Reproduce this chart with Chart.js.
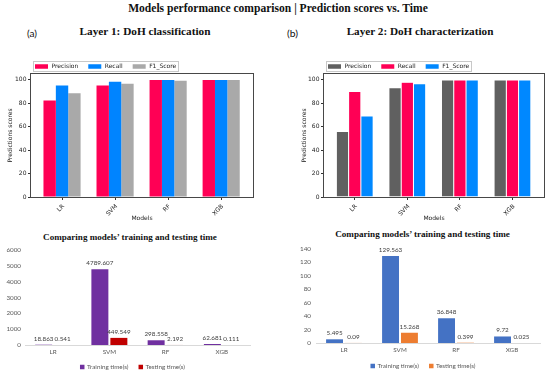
<!DOCTYPE html>
<html><head><meta charset="utf-8">
<script src="https://cdn.jsdelivr.net/npm/chart.js@4.4.0/dist/chart.umd.min.js"></script>
<style>
html,body{margin:0;padding:0;background:#fff;}
body{width:550px;height:376px;position:relative;overflow:hidden;}
canvas{position:absolute;}
.fit{position:absolute;white-space:nowrap;line-height:1;transform:translateY(-50%);color:#111;}
.serif{font-family:"Liberation Serif",serif;font-weight:bold;}
.sans{font-family:Lato,"Liberation Sans",sans-serif;}
</style></head><body>
<div class="fit serif" data-w="300" data-cx="278" data-cy="9">Models performance comparison | Prediction scores vs. Time</div>
<div class="fit sans" data-w="10" data-cx="32" data-cy="33">(a)</div>
<div class="fit serif" data-w="131" data-cx="145" data-cy="32">Layer 1: DoH classification</div>
<div class="fit sans" data-w="11" data-cx="292.5" data-cy="33">(b)</div>
<div class="fit serif" data-w="147" data-cx="420" data-cy="32">Layer 2: DoH characterization</div>
<div class="fit serif" data-w="174" data-cx="130" data-cy="238">Comparing models’ training and testing time</div>
<div class="fit serif" data-w="175" data-cx="422.5" data-cy="235">Comparing models’ training and testing time</div>

<canvas id="c1" width="275" height="185" style="left:0;top:42px"></canvas>
<canvas id="c2" width="275" height="185" style="left:275px;top:42px"></canvas>
<canvas id="c3" width="275" height="148" style="left:0;top:228px"></canvas>
<canvas id="c4" width="275" height="148" style="left:275px;top:228px"></canvas>
<script>
// ---------- data ----------
const models = ['LR', 'SVM', 'RF', 'XGB'];
const scoreTicks = [0, 20, 40, 60, 80, 100];
const layer1Precision = [82.3, 95.1, 99.9, 99.9];
const layer1Recall    = [95.1, 98.3, 99.9, 99.9];
const layer1F1        = [88.6, 96.6, 99.2, 99.8];
const layer2Precision = [56.0, 93.2, 99.8, 99.9];
const layer2Recall    = [90.1, 98.0, 99.8, 99.9];
const layer2F1        = [69.2, 96.6, 99.8, 99.8];
const layer1TrainTime = [18.863, 4789.607, 298.558, 62.681];
const layer1TestTime  = [0.541, 449.549, 2.192, 0.111];
const layer2TrainTime = [5.495, 129.563, 36.848, 9.72];
const layer2TestTime  = [0.09, 15.268, 0.399, 0.025];

// ---------- headings fit ----------
document.querySelectorAll('.fit').forEach(el => {
  const base = 20;
  el.style.fontSize = base + 'px';
  const m = el.getBoundingClientRect().width;
  el.style.fontSize = (base * (+el.dataset.w) / m) + 'px';
  el.style.left = (+el.dataset.cx - el.getBoundingClientRect().width / 2) + 'px';
  el.style.top = el.dataset.cy + 'px';
});

// ---------- plugins ----------
const framePlugin = {
  id: 'frame',
  afterDatasetsDraw(chart, args, o) {
    const {left, top, right, bottom} = chart.chartArea;
    const c = chart.ctx;
    c.save();
    c.strokeStyle = o.color || '#444';
    c.lineWidth = 1;
    c.strokeRect(Math.round(left) - 0.5, Math.round(top) - 0.5, Math.round(right - left) + 1, Math.round(bottom - top) + 1);
    c.restore();
  }
};
const mplLegend = {
  id: 'mplLegend',
  afterDraw(chart, args, o) {
    const c = chart.ctx, ca = chart.chartArea, ds = chart.data.datasets;
    c.save();
    c.font = o.size + 'px "DejaVu Sans"';
    const ws = ds.map(d => c.measureText(d.label).width);
    const total = o.pad * 2 + ds.reduce((s, d, i) => s + o.sw + o.tg + ws[i], 0) + o.gap * (ds.length - 1);
    const x0 = Math.round(ca.left + o.dx), top = Math.round(ca.top - o.dy - o.h);
    c.fillStyle = '#fff';
    c.fillRect(x0, top, total, o.h);
    c.strokeStyle = '#c8c8c8';
    c.lineWidth = 1;
    c.strokeRect(x0 + 0.5, top + 0.5, Math.round(total), o.h);
    let x = x0 + o.pad;
    const cy = top + o.h / 2 + 0.5;
    ds.forEach((d, i) => {
      c.fillStyle = d.backgroundColor;
      c.fillRect(x, cy - o.sh / 2, o.sw, o.sh);
      x += o.sw + o.tg;
      c.fillStyle = '#222';
      c.textBaseline = 'middle';
      c.textAlign = 'left';
      c.fillText(d.label, x, cy);
      x += ws[i] + o.gap;
    });
    c.restore();
  }
};
const valueLabels = {
  id: 'valueLabels',
  afterDatasetsDraw(chart, args, o) {
    const c = chart.ctx;
    c.save();
    c.font = o.size + 'px ' + o.family;
    c.fillStyle = o.color;
    c.textAlign = 'center';
    c.textBaseline = 'bottom';
    chart.data.datasets.forEach((d, i) => {
      chart.getDatasetMeta(i).data.forEach((el, j) => {
        c.fillText(String(d.data[j]), el.x, el.y - o.gap);
      });
    });
    c.restore();
  }
};
const excelLegend = {
  id: 'excelLegend',
  afterDraw(chart, args, o) {
    const c = chart.ctx, ca = chart.chartArea, ds = chart.data.datasets;
    c.save();
    c.font = o.size + 'px ' + o.family;
    const ws = ds.map(d => c.measureText(d.label).width);
    const total = ds.reduce((s, d, i) => s + o.sw + o.tg + ws[i], 0) + o.gap * (ds.length - 1);
    let x = (ca.left + ca.right) / 2 + o.dx - total / 2;
    const y = chart.height - o.fromBottom;
    ds.forEach((d, i) => {
      c.fillStyle = d.backgroundColor;
      c.fillRect(x, y - o.sw / 2, o.sw, o.sw);
      x += o.sw + o.tg;
      c.fillStyle = o.color;
      c.textBaseline = 'middle';
      c.textAlign = 'left';
      c.fillText(d.label, x, y);
      x += ws[i] + o.gap;
    });
    c.restore();
  }
};

// ---------- score charts ----------
const mplFont = {family: 'DejaVu Sans', size: 6};
function scoreChart(id, sets, cfg) {
  return new Chart(document.getElementById(id), {
    type: 'bar',
    data: {
      datasets: sets.map(s => ({
        label: s.label,
        data: s.values.map((v, i) => ({x: i, y: v})),
        backgroundColor: s.color,
        borderColor: '#ffffff',
        borderWidth: cfg.bw
      }))
    },
    options: {
      responsive: false, animation: false, devicePixelRatio: 1,
      layout: {padding: {left: 0, right: cfg.right, top: 32, bottom: 0}},
      datasets: {bar: {categoryPercentage: 0.7, barPercentage: 1}},
      plugins: {
        legend: {display: false}, tooltip: {enabled: false},
        frame: {color: '#474747'},
        mplLegend: {size: 6, pad: 2, sw: 13, sh: 4.5, tg: 3.5, gap: 10, h: 10, dx: 1.5, dy: 3}
      },
      scales: {
        x: {
          type: 'linear', min: -0.585, max: 3.6, offset: false,
          afterBuildTicks: s => { s.ticks = models.map((m, i) => ({value: i})); },
          grid: {drawOnChartArea: false, drawTicks: true, tickLength: 3, color: '#333', offset: false},
          border: {display: false},
          ticks: {callback: v => models[v], autoSkip: false, minRotation: 45, maxRotation: 45,
                  font: mplFont, color: '#222', padding: 3, labelOffset: 1.5},
          title: {display: true, text: 'Models', font: mplFont, color: '#222', padding: {top: 0, bottom: 5.4}},
          afterFit: s => { s.height = 30; }
        },
        y: {
          min: 0, max: 105,
          afterBuildTicks: s => { s.ticks = scoreTicks.map(v => ({value: v})); },
          grid: {drawOnChartArea: false, drawTicks: true, tickLength: 3, color: '#333'},
          border: {display: false},
          ticks: {font: mplFont, color: '#222', padding: 1.5},
          title: {display: true, text: 'Predictions scores', font: mplFont, color: '#222', padding: {top: cfg.titlePad, bottom: 0}},
          afterFit: s => { s.width = cfg.yw; }
        }
      }
    },
    plugins: [framePlugin, mplLegend]
  });
}

scoreChart('c1', [
  {label: 'Precision', values: layer1Precision, color: '#ff0055'},
  {label: 'Recall', values: layer1Recall, color: '#0084ff'},
  {label: 'F1_Score', values: layer1F1, color: '#a9a9a9'}
], {right: 22, yw: 31, titlePad: 6.4, bw: 0});

scoreChart('c2', [
  {label: 'Precision', values: layer2Precision, color: '#606060'},
  {label: 'Recall', values: layer2Recall, color: '#ff0055'},
  {label: 'F1_Score', values: layer2F1, color: '#0088ff'}
], {right: 6, yw: 49, titlePad: 25.4, bw: 0.5});

// ---------- time charts ----------
const xlFamily = 'Lato, "Liberation Sans", sans-serif';
const xlSize = 6.3;
function timeChart(id, train, test, colors, yMax, yStep, cfg) {
  return new Chart(document.getElementById(id), {
    type: 'bar',
    data: {
      labels: models,
      datasets: [
        {label: 'Training time(s)', data: train, backgroundColor: colors[0]},
        {label: 'Testing time(s)', data: test, backgroundColor: colors[1]}
      ]
    },
    options: {
      responsive: false, animation: false, devicePixelRatio: 1,
      layout: {padding: {left: 0, right: cfg.right, top: cfg.top, bottom: 0}},
      datasets: {bar: {categoryPercentage: 0.675, barPercentage: 0.895}},
      plugins: {
        legend: {display: false}, tooltip: {enabled: false},
        valueLabels: {size: xlSize, family: xlFamily, color: '#404040', gap: 3},
        excelLegend: {size: xlSize, family: xlFamily, color: '#595959', sw: 4.5, tg: 2.5, gap: 10, dx: -5, fromBottom: cfg.legendFromBottom}
      },
      scales: {
        x: {
          grid: {display: false, drawTicks: false},
          border: {display: true, color: '#d9d9d9', width: 1},
          ticks: {font: {family: xlFamily, size: xlSize}, color: '#595959', padding: 3.5},
          afterFit: s => { s.height = cfg.xh; }
        },
        y: {
          min: 0, max: yMax,
          grid: {display: false, drawTicks: false},
          border: {display: false},
          ticks: {stepSize: yStep, callback: v => String(v), font: {family: xlFamily, size: xlSize}, color: '#595959', padding: cfg.ypad},
          afterFit: s => { s.width = cfg.yw; }
        }
      }
    },
    plugins: [valueLabels, excelLegend]
  });
}

timeChart('c3', layer1TrainTime, layer1TestTime, ['#7030a0', '#c00000'], 6000, 1000,
  {right: 25, top: 22, xh: 31, yw: 25, ypad: 4, legendFromBottom: 9});
timeChart('c4', layer2TrainTime, layer2TestTime, ['#4472c4', '#ed7d31'], 140, 20,
  {right: 10, top: 21, xh: 33, yw: 41, ypad: 5, legendFromBottom: 10});
</script>
</body></html>
